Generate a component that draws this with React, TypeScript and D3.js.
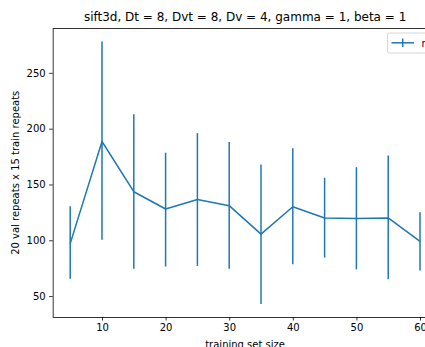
import React, {useRef, useEffect} from 'react'
import * as d3 from 'd3'

const sizes = [5, 10, 15, 20, 25, 30, 35, 40, 45, 50, 55, 60]
const means = [97, 188.5, 143.5, 128, 136.5, 131, 105.5, 130, 120, 119.5, 120, 99]
const upper = [130.5, 278, 213, 178.5, 196, 188, 168, 182.5, 156, 165.5, 176, 125]
const lower = [65.5, 100.5, 74.5, 76.5, 77, 74.5, 43, 78.5, 84.5, 74, 65, 73]
const xTicks = [10, 20, 30, 40, 50, 60]
const yTicks = [50, 100, 150, 200, 250]

const title = 'sift3d, Dt = 8, Dvt = 8, Dv = 4, gamma = 1, beta = 1'
const xLabel = 'training set size'
const yLabel = '20 val repeats x 15 train repeats'
const legendLabel = 'mean'

export default function App() {
  const ref = useRef(null)

  useEffect(() => {
    const svg = d3.select(ref.current)
    svg.selectAll('*').remove()
    draw(svg)
  }, [])

  function draw(svg) {
    const left = 52.7
    const right = 437.5
    const top = 28.5
    const bottom = 317
    const blue = '#1f77b4'
    const font = 'DejaVu Sans, sans-serif'

    const data = sizes.map((s, i) => ({x: s, y: means[i], hi: upper[i], lo: lower[i]}))

    const xMin = d3.min(sizes)
    const xMax = d3.max(sizes)
    const xPad = (xMax - xMin) * 0.05
    const yMin = d3.min(lower)
    const yMax = d3.max(upper)
    const yPad = (yMax - yMin) * 0.05

    const x = d3.scaleLinear().domain([xMin - xPad, xMax + xPad]).range([left, right])
    const y = d3.scaleLinear().domain([yMin - yPad, yMax + yPad]).range([bottom, top])

    // title
    svg
      .append('text')
      .attr('x', (left + right) / 2)
      .attr('y', 21)
      .attr('text-anchor', 'middle')
      .style('font-family', font)
      .style('font-size', '12px')
      .attr('fill', '#000')
      .text(title)

    // error bars
    svg
      .append('g')
      .selectAll('line')
      .data(data)
      .enter()
      .append('line')
      .attr('x1', d => x(d.x))
      .attr('x2', d => x(d.x))
      .attr('y1', d => y(d.lo))
      .attr('y2', d => y(d.hi))
      .attr('stroke', blue)
      .attr('stroke-width', 1.5)

    const line = d3
      .line()
      .x(d => x(d.x))
      .y(d => y(d.y))

    svg
      .append('path')
      .datum(data)
      .attr('d', line)
      .attr('fill', 'none')
      .attr('stroke', blue)
      .attr('stroke-width', 1.5)
      .attr('stroke-linejoin', 'round')

    // axes
    const xAxis = svg
      .append('g')
      .attr('transform', `translate(0, ${bottom})`)
      .call(d3.axisBottom(x).tickValues(xTicks).tickSize(3.5).tickPadding(3.5).tickSizeOuter(0))
    const yAxis = svg
      .append('g')
      .attr('transform', `translate(${left}, 0)`)
      .call(d3.axisLeft(y).tickValues(yTicks).tickSize(3.5).tickPadding(3.5).tickSizeOuter(0))

    ;[xAxis, yAxis].forEach(g => {
      g.select('.domain').attr('stroke', '#000').attr('stroke-width', 0.8)
      g.selectAll('.tick line').attr('stroke', '#000').attr('stroke-width', 0.8)
      g.selectAll('.tick text')
        .attr('fill', '#000')
        .style('font-family', font)
        .style('font-size', '10px')
    })

    // top spine
    svg
      .append('line')
      .attr('x1', left)
      .attr('x2', right)
      .attr('y1', top)
      .attr('y2', top)
      .attr('stroke', '#000')
      .attr('stroke-width', 0.8)

    // axis labels
    svg
      .append('text')
      .attr('x', (left + right) / 2)
      .attr('y', 347.5)
      .attr('text-anchor', 'middle')
      .style('font-family', font)
      .style('font-size', '10px')
      .attr('fill', '#000')
      .text(xLabel)

    svg
      .append('text')
      .attr('transform', `translate(18.5, ${(top + bottom) / 2}) rotate(-90)`)
      .attr('text-anchor', 'middle')
      .style('font-family', font)
      .style('font-size', '10px')
      .attr('fill', '#000')
      .text(yLabel)

    // legend
    const legend = svg.append('g').attr('transform', 'translate(387.5, 33)')
    legend
      .append('rect')
      .attr('width', 70)
      .attr('height', 20)
      .attr('rx', 2)
      .attr('fill', '#fff')
      .attr('fill-opacity', 0.8)
      .attr('stroke', '#ccc')
      .attr('stroke-width', 0.8)
    legend
      .append('line')
      .attr('x1', 4)
      .attr('x2', 26.5)
      .attr('y1', 9.8)
      .attr('y2', 9.8)
      .attr('stroke', blue)
      .attr('stroke-width', 1.5)
    legend
      .append('line')
      .attr('x1', 15.2)
      .attr('x2', 15.2)
      .attr('y1', 5.5)
      .attr('y2', 14)
      .attr('stroke', blue)
      .attr('stroke-width', 1.5)
    legend
      .append('text')
      .attr('x', 34)
      .attr('y', 13.5)
      .style('font-family', font)
      .style('font-size', '10px')
      .attr('fill', '#000')
      .text(legendLabel)
  }

  return (
    <svg
      width="425"
      height="347"
      style={{position: 'absolute', left: 0, top: 0, background: '#fff'}}
    >
      <g ref={ref} />
    </svg>
  )
}
